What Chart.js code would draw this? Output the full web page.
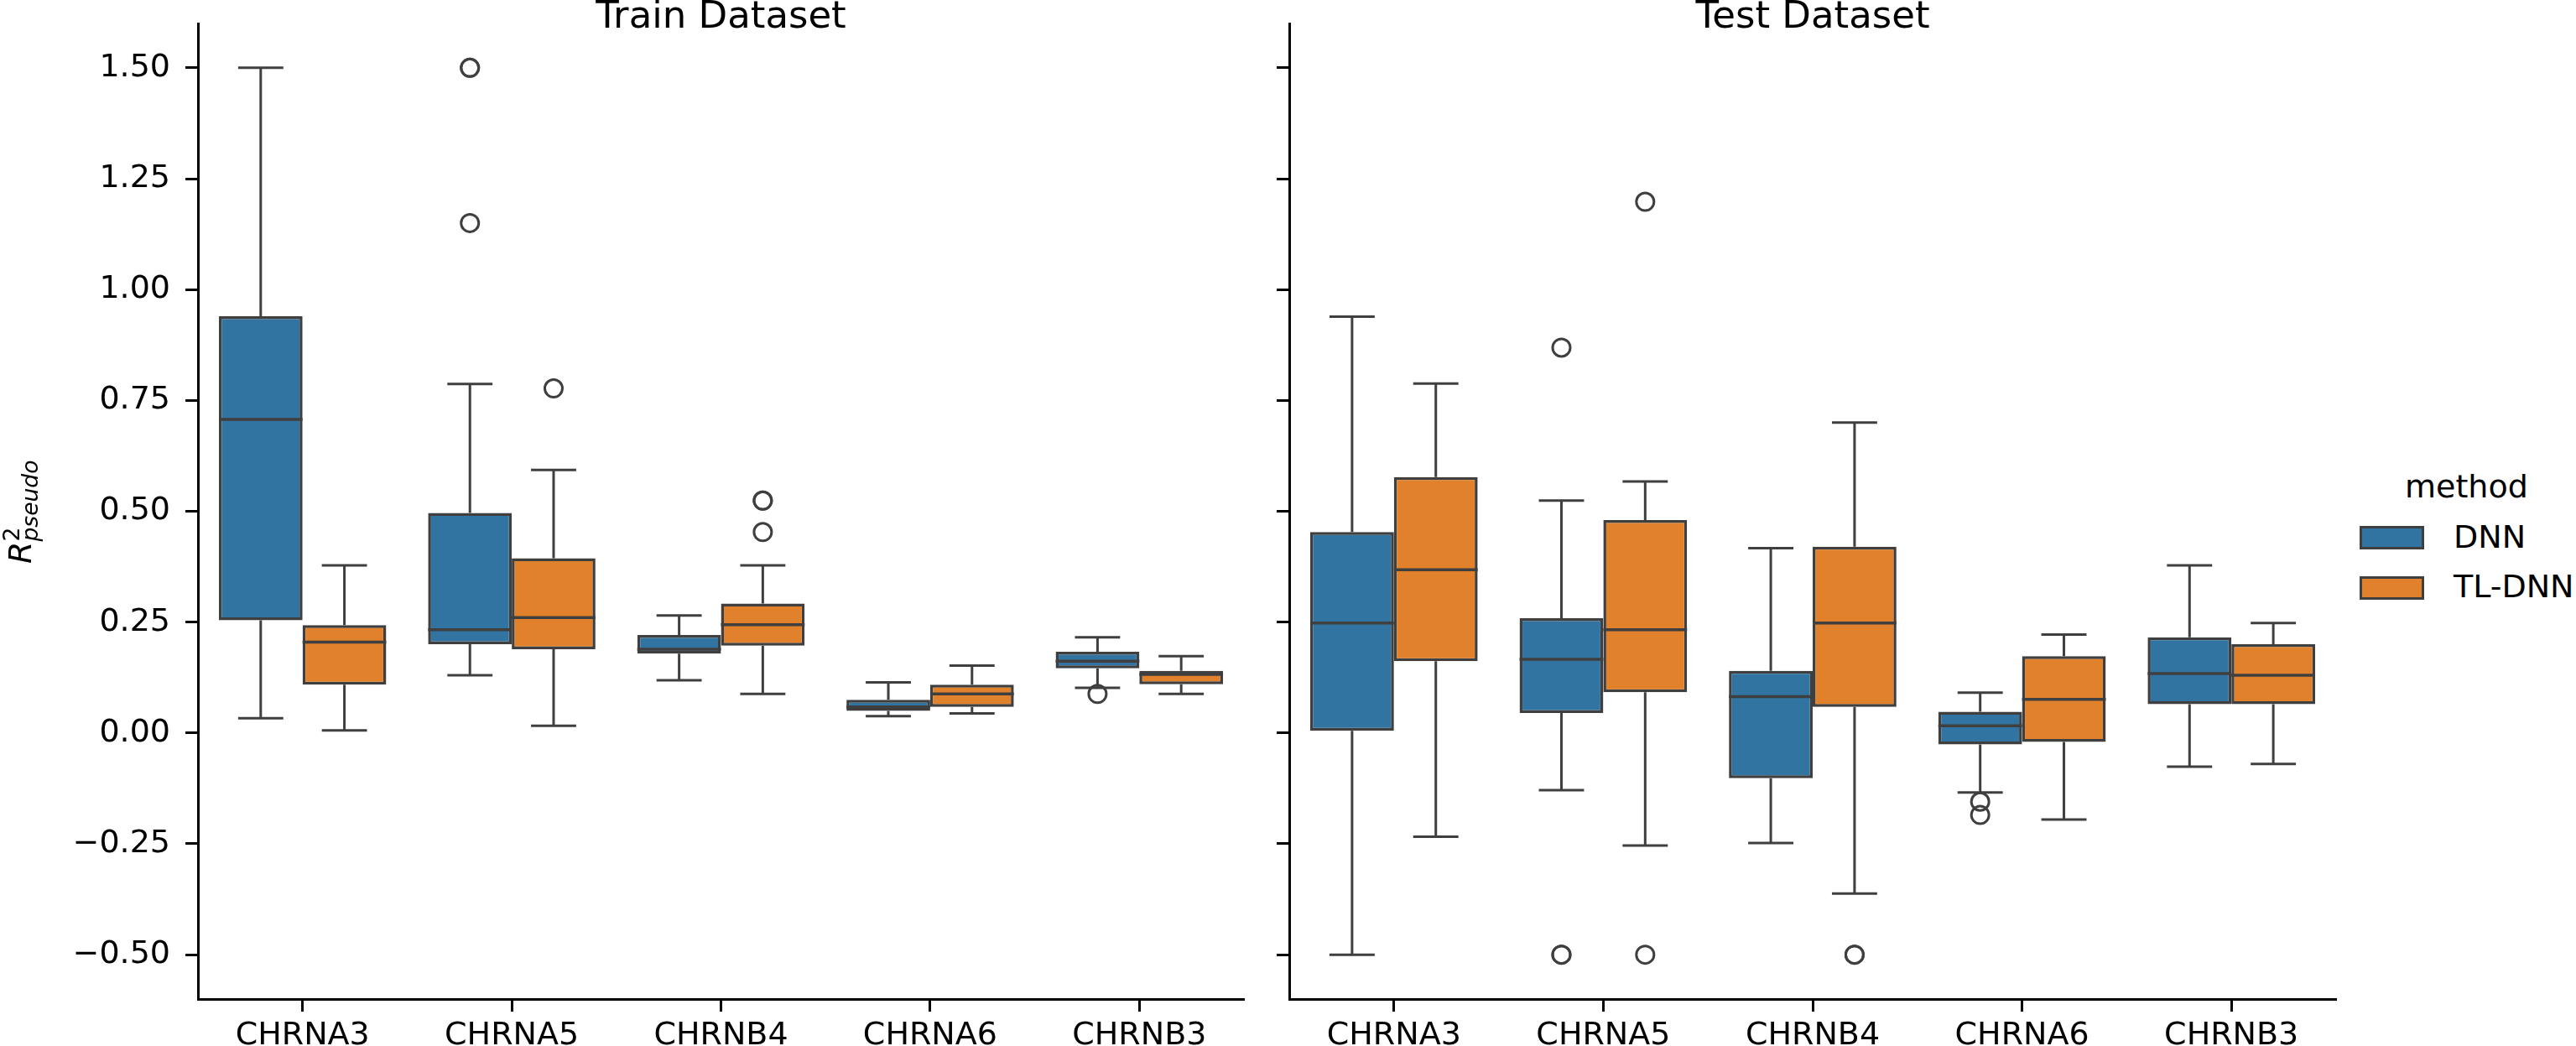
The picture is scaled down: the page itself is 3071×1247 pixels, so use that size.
<!DOCTYPE html>
<html lang="en">
<head>
<meta charset="UTF-8">
<title>R2 pseudo - Train / Test</title>
<script src="https://cdn.jsdelivr.net/npm/chart.js"></script>
<style>
    body { margin: 0; background: #fff; }
    #wrap { position: relative; width: 3071px; height: 1247px; overflow: hidden; font-family: 'DejaVu Sans'; color: #000; }
    canvas { position: absolute; top: 0; }
    #trainChart { left: 0; }
    #testChart { left: 1500px; }
    #ylab { position: absolute; left: 5px; top: 672px; transform-origin: 0 0; transform: rotate(-90deg);
            font-size: 38px; line-height: 38px; white-space: nowrap; }
    #ylab .sup { display: inline-block; width: 0; position: relative; top: -14px; font-size: 26.6px; }
    #ylab .sub { position: relative; top: 8px; font-size: 26.6px; }
    .lg { position: absolute; font-size: 38px; line-height: 38px; white-space: nowrap; }
    .sw { position: absolute; width: 77px; height: 28px; box-sizing: border-box; border: 3.5px solid #3f3f3f; }
</style>
</head>
<body>
<div id="wrap">
    <canvas id="trainChart" width="1500" height="1247"></canvas>
    <canvas id="testChart" width="1300" height="1247"></canvas>
    <div id="ylab"><i>R</i><span class="sup">2</span><i class="sub">pseudo</i></div>
    <div class="lg" style="left:2867px; top:561px;">method</div>
    <div class="sw" style="left:2813px; top:627px; background:#3274a1;"></div>
    <div class="lg" style="left:2925px; top:621px;">DNN</div>
    <div class="sw" style="left:2813px; top:687px; background:#e1812c;"></div>
    <div class="lg" style="left:2925px; top:680px;">TL-DNN</div>
</div>
<script>
    const genes = ['CHRNA3', 'CHRNA5', 'CHRNB4', 'CHRNA6', 'CHRNB3'];
    const methods = ['DNN', 'TL-DNN'];
    const yTicks = [-0.5, -0.25, 0, 0.25, 0.5, 0.75, 1.0, 1.25, 1.5];

    // [lower whisker, Q1, median, Q3, upper whisker]
    const trainDNN = [
        [0.033, 0.254, 0.707, 0.940, 1.500],
        [0.130, 0.200, 0.233, 0.496, 0.787],
        [0.119, 0.179, 0.189, 0.221, 0.265],
        [0.038, 0.050, 0.059, 0.075, 0.114],
        [0.102, 0.146, 0.162, 0.183, 0.216]
    ];
    const trainTL = [
        [0.006, 0.109, 0.205, 0.243, 0.378],
        [0.016, 0.189, 0.260, 0.394, 0.593],
        [0.088, 0.197, 0.244, 0.292, 0.378],
        [0.044, 0.059, 0.088, 0.109, 0.152],
        [0.088, 0.110, 0.132, 0.140, 0.173]
    ];
    const testDNN = [
        [-0.500, 0.005, 0.248, 0.453, 0.939],
        [-0.129, 0.045, 0.166, 0.259, 0.524],
        [-0.248, -0.102, 0.082, 0.140, 0.417],
        [-0.134, -0.026, 0.016, 0.048, 0.091],
        [-0.076, 0.065, 0.134, 0.216, 0.378]
    ];
    const testTL = [
        [-0.234, 0.162, 0.368, 0.577, 0.788],
        [-0.254, 0.092, 0.233, 0.480, 0.567],
        [-0.362, 0.059, 0.248, 0.420, 0.700],
        [-0.195, -0.020, 0.076, 0.173, 0.222],
        [-0.070, 0.065, 0.130, 0.200, 0.248]
    ];

    // outliers
    const trainDNNOut = [[], [1.15, 1.5, 1.5], [], [], [0.088]];
    const trainTLOut = [[], [0.777], [0.453, 0.524, 0.524], [], []];
    const testDNNOut = [[], [0.869, -0.5, -0.5], [], [-0.155, -0.185], []];
    const testTLOut = [[], [1.198, -0.5], [-0.5, -0.5], [], []];

    const colors = ['#3274a1', '#e1812c'];
    const lineColor = '#3f3f3f';

    Chart.defaults.font.family = 'DejaVu Sans';
    Chart.defaults.color = '#000';

    // whiskers, caps, medians and fliers drawn from the bar elements + y scale
    const boxParts = {
        id: 'boxParts',
        beforeDatasetsDraw(chart) {
            const ctx = chart.ctx;
            const y = chart.scales.y;
            ctx.save();
            ctx.strokeStyle = lineColor;
            ctx.lineWidth = 3;
            chart.data.datasets.forEach((ds, i) => {
                chart.getDatasetMeta(i).data.forEach((bar, j) => {
                    const s = ds.stats[j];
                    const cap = bar.width * 0.27;
                    ctx.beginPath();
                    ctx.moveTo(bar.x, y.getPixelForValue(s[0]));
                    ctx.lineTo(bar.x, y.getPixelForValue(s[1]));
                    ctx.moveTo(bar.x, y.getPixelForValue(s[3]));
                    ctx.lineTo(bar.x, y.getPixelForValue(s[4]));
                    ctx.moveTo(bar.x - cap, y.getPixelForValue(s[0]));
                    ctx.lineTo(bar.x + cap, y.getPixelForValue(s[0]));
                    ctx.moveTo(bar.x - cap, y.getPixelForValue(s[4]));
                    ctx.lineTo(bar.x + cap, y.getPixelForValue(s[4]));
                    ctx.stroke();
                });
            });
            ctx.restore();
        },
        afterDatasetsDraw(chart) {
            const ctx = chart.ctx;
            const y = chart.scales.y;
            ctx.save();
            ctx.strokeStyle = lineColor;
            chart.data.datasets.forEach((ds, i) => {
                chart.getDatasetMeta(i).data.forEach((bar, j) => {
                    const s = ds.stats[j];
                    const half = bar.width / 2;
                    ctx.lineWidth = 3.5;
                    ctx.beginPath();
                    ctx.moveTo(bar.x - half, y.getPixelForValue(s[2]));
                    ctx.lineTo(bar.x + half, y.getPixelForValue(s[2]));
                    ctx.stroke();
                    ctx.lineWidth = 3;
                    ds.fliers[j].forEach(v => {
                        ctx.beginPath();
                        ctx.arc(bar.x, y.getPixelForValue(v), 10.5, 0, Math.PI * 2);
                        ctx.stroke();
                    });
                });
            });
            ctx.restore();
        }
    };

    function makeChart(id, title, dnn, tl, dnnOut, tlOut, showLabels, yWidth, padRight) {
        const ctx = document.getElementById(id).getContext('2d');
        return new Chart(ctx, {
            type: 'bar',
            data: {
                labels: genes,
                datasets: [
                    {
                        label: methods[0],
                        data: dnn.map(s => [s[1], s[3]]),
                        stats: dnn,
                        fliers: dnnOut,
                        backgroundColor: colors[0],
                        borderColor: lineColor,
                        borderWidth: 3.5,
                        borderSkipped: false
                    },
                    {
                        label: methods[1],
                        data: tl.map(s => [s[1], s[3]]),
                        stats: tl,
                        fliers: tlOut,
                        backgroundColor: colors[1],
                        borderColor: lineColor,
                        borderWidth: 3.5,
                        borderSkipped: false
                    }
                ]
            },
            options: {
                responsive: false,
                animation: false,
                devicePixelRatio: 1,
                categoryPercentage: 0.8,
                barPercentage: 1.0,
                layout: { padding: { left: 0, right: padRight, top: 0, bottom: 0 } },
                scales: {
                    x: {
                        grid: { offset: false, drawOnChartArea: false, tickLength: 15, tickWidth: 3, tickColor: '#000' },
                        border: { color: '#000', width: 3 },
                        ticks: { font: { size: 38 }, padding: 6, maxRotation: 0 },
                        afterFit: scale => { scale.height = 56; scale.paddingLeft = 0; scale.paddingRight = 0; }
                    },
                    y: {
                        min: -0.6,
                        max: 1.6,
                        grid: { drawOnChartArea: false, tickLength: 15, tickWidth: 3, tickColor: '#000' },
                        border: { color: '#000', width: 3 },
                        ticks: {
                            display: showLabels,
                            font: { size: 38 },
                            padding: 18,
                            callback: v => v.toFixed(2).replace('-', '\u2212')
                        },
                        afterBuildTicks: scale => { scale.ticks = yTicks.map(v => ({ value: v })); },
                        afterFit: scale => { scale.width = yWidth; scale.paddingTop = 0; scale.paddingBottom = 0; }
                    }
                },
                plugins: {
                    legend: { display: false },
                    tooltip: { enabled: false },
                    title: {
                        display: true,
                        text: title,
                        fullSize: false,
                        color: '#000',
                        font: { size: 45, weight: 'normal', lineHeight: 1 },
                        padding: { top: -1, bottom: -16 }
                    }
                }
            },
            plugins: [boxParts]
        });
    }

    makeChart('trainChart', 'Train Dataset', trainDNN, trainTL, trainDNNOut, trainTLOut, true, 236, 17);
    makeChart('testChart', 'Test Dataset', testDNN, testTL, testDNNOut, testTLOut, false, 37, 15);
</script>
</body>
</html>
